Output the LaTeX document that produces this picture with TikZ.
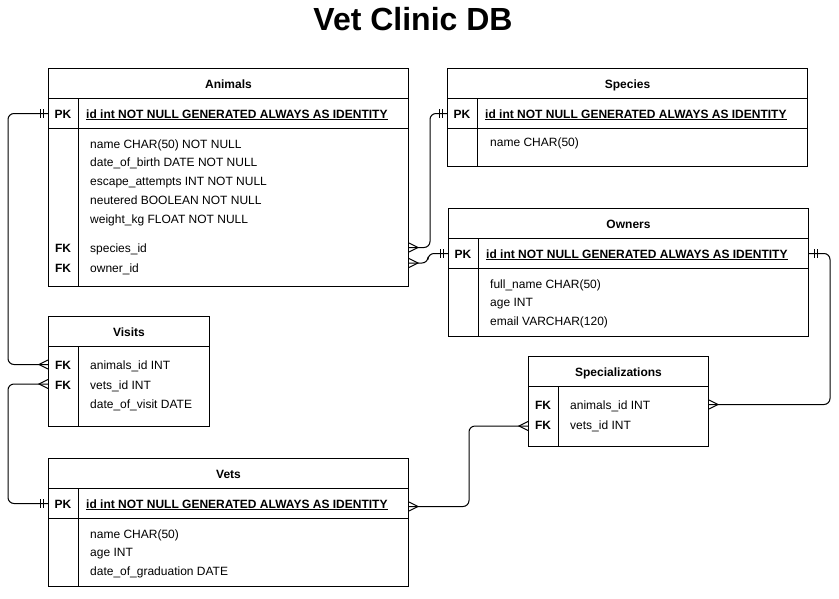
\documentclass[tikz,border=0pt]{standalone}
\usepackage{fontspec}
\setmainfont{Liberation Sans}
\usetikzlibrary{calc}
\begin{document}
\begin{tikzpicture}[x=1pt,y=-1pt,
  font=\fontsize{12}{14}\selectfont,
  box/.style={draw, line width=1pt, anchor=north west, inner sep=0pt, minimum height=30pt},
  ttl/.style={font=\fontsize{12}{14}\selectfont\bfseries, text height=10.5pt, text depth=0pt},
  key/.style={font=\fontsize{12}{14}\selectfont\bfseries, anchor=center, inner sep=0pt, text height=10pt, text depth=0pt},
  attr/.style={anchor=west, inner sep=0pt, text height=10pt, text depth=0pt},
  pkt/.style={attr, font=\fontsize{12}{14}\selectfont\bfseries},
  divline/.style={line width=1pt},
  conn/.style={line width=1pt, rounded corners=6pt},
  erone/.pic={\draw[line width=1pt] (-5,-4.5)--(-5,4.5) (-8,-4.5)--(-8,4.5);},
  ermany/.pic={\draw[line width=1pt] (0,-4.5)--(-9,0)--(0,4.5);}
]
\fill[white] (0,0) rectangle (839,598);
\useasboundingbox (0,0) rectangle (839,598);

\node[font=\fontsize{32}{38}\selectfont\bfseries] (title) at (413,19) {Vet Clinic DB};

% Animals
\node[box, ttl, minimum width=360pt] (animals) at (48,68) {Animals};
\node[box, minimum width=360pt] (animalsPK) at (48,98) {};
\node[box, minimum width=360pt, minimum height=158pt] (animalsBody) at (48,128) {};
\draw[divline] ([xshift=30pt]animalsPK.north west) -- ([xshift=30pt]animalsBody.south west);
\node[key] (aPK) at (63,113) {PK};
\node[pkt] (aID) at (86,113) {\underline{id int NOT NULL GENERATED ALWAYS AS IDENTITY}};
\node[attr] (aName) at (90,143) {name CHAR(50) NOT NULL};
\node[attr] (aDob) at (90,161.5) {date\_of\_birth DATE NOT NULL};
\node[attr] (aEsc) at (90,180.5) {escape\_attempts INT NOT NULL};
\node[attr] (aNeu) at (90,199.5) {neutered BOOLEAN NOT NULL};
\node[attr] (aWt) at (90,218.5) {weight\_kg FLOAT NOT NULL};
\node[key] (aFK1) at (63,247.5) {FK};
\node[attr] (aSp) at (90,247.5) {species\_id};
\node[key] (aFK2) at (63,267) {FK};
\node[attr] (aOw) at (90,267) {owner\_id};

% Species
\node[box, ttl, minimum width=360pt] (species) at (447,68) {Species};
\node[box, minimum width=360pt] (speciesPK) at (447,98) {};
\node[box, minimum width=360pt, minimum height=38pt] (speciesBody) at (447,128) {};
\draw[divline] ([xshift=30pt]speciesPK.north west) -- ([xshift=30pt]speciesBody.south west);
\node[key] (sPK) at (462,113) {PK};
\node[pkt] (sID) at (485,113) {\underline{id int NOT NULL GENERATED ALWAYS AS IDENTITY}};
\node[attr] (sName) at (490,141.5) {name CHAR(50)};

% Owners
\node[box, ttl, minimum width=360pt] (owners) at (448,208) {Owners};
\node[box, minimum width=360pt] (ownersPK) at (448,238) {};
\node[box, minimum width=360pt, minimum height=68pt] (ownersBody) at (448,268) {};
\draw[divline] ([xshift=30pt]ownersPK.north west) -- ([xshift=30pt]ownersBody.south west);
\node[key] (oPK) at (463,253) {PK};
\node[pkt] (oID) at (486,253) {\underline{id int NOT NULL GENERATED ALWAYS AS IDENTITY}};
\node[attr] (oName) at (490,283.5) {full\_name CHAR(50)};
\node[attr] (oAge) at (490,301.5) {age INT};
\node[attr] (oMail) at (490,320.5) {email VARCHAR(120)};

% Visits
\node[box, ttl, minimum width=161pt] (visits) at (48,316) {Visits};
\node[box, minimum width=161pt, minimum height=80pt] (visitsBody) at (48,346) {};
\draw[divline] ([xshift=30pt]visitsBody.north west) -- ([xshift=30pt]visitsBody.south west);
\node[key] (vFK1) at (63,364.5) {FK};
\node[attr] (vAn) at (90,364.5) {animals\_id INT};
\node[key] (vFK2) at (63,384) {FK};
\node[attr] (vVe) at (90,384) {vets\_id INT};
\node[attr] (vDate) at (90,403.5) {date\_of\_visit DATE};

% Specializations
\node[box, ttl, minimum width=180pt] (spec) at (528,356) {Specializations};
\node[box, minimum width=180pt, minimum height=60pt] (specBody) at (528,386) {};
\draw[divline] ([xshift=30pt]specBody.north west) -- ([xshift=30pt]specBody.south west);
\node[key] (spFK1) at (543,404.5) {FK};
\node[attr] (spAn) at (570,404) {animals\_id INT};
\node[key] (spFK2) at (543,424.5) {FK};
\node[attr] (spVe) at (570,424) {vets\_id INT};

% Vets
\node[box, ttl, minimum width=360pt] (vets) at (48,458) {Vets};
\node[box, minimum width=360pt] (vetsPK) at (48,488) {};
\node[box, minimum width=360pt, minimum height=68pt] (vetsBody) at (48,518) {};
\draw[divline] ([xshift=30pt]vetsPK.north west) -- ([xshift=30pt]vetsBody.south west);
\node[key] (vPK) at (63,503) {PK};
\node[pkt] (vID) at (86,503) {\underline{id int NOT NULL GENERATED ALWAYS AS IDENTITY}};
\node[attr] (vName) at (90,533.5) {name CHAR(50)};
\node[attr] (vAge) at (90,551.5) {age INT};
\node[attr] (vGrad) at (90,570.5) {date\_of\_graduation DATE};

% Connectors
% Animals -> Visits
\draw[conn] (animalsPK.west) -- ++(-40,0) |- (visitsBody.west |- vFK1);
\path (animalsPK.west) pic {erone};
\path (visitsBody.west |- vFK1) pic {ermany};
% Vets -> Visits
\draw[conn] (vetsPK.west) -- ++(-40,0) |- (visitsBody.west |- vFK2);
\path (vetsPK.west) pic {erone};
\path (visitsBody.west |- vFK2) pic {ermany};
% Species -> Animals
\draw[conn] (animalsBody.east |- aFK1) -- ++(21,0) |- (speciesPK.west);
\path (animalsBody.east |- aFK1) pic[xscale=-1] {ermany};
\path (speciesPK.west) pic {erone};
% Owners -> Animals
\draw[conn] ($(animalsBody.east |- aFK2)+(0,-4)$) -- ++(19,0) |- (ownersPK.west);
\path ($(animalsBody.east |- aFK2)+(0,-4)$) pic[xscale=-1] {ermany};
\path (ownersPK.west) pic {erone};
% Owners -> Specializations
\draw[conn] (ownersPK.east) -- ++(21,0) |- (specBody.east |- spFK1);
\path (ownersPK.east) pic[xscale=-1] {erone};
\path (specBody.east |- spFK1) pic[xscale=-1] {ermany};
% Vets -> Specializations
\draw[conn] ($(vetsPK.east)+(0,3)$) -- ++(60,0) |- ($(specBody.west |- spFK2)+(0,1.5)$);
\path ($(vetsPK.east)+(0,3)$) pic[xscale=-1] {ermany};
\path ($(specBody.west |- spFK2)+(0,1.5)$) pic {ermany};
\end{tikzpicture}
\end{document}
